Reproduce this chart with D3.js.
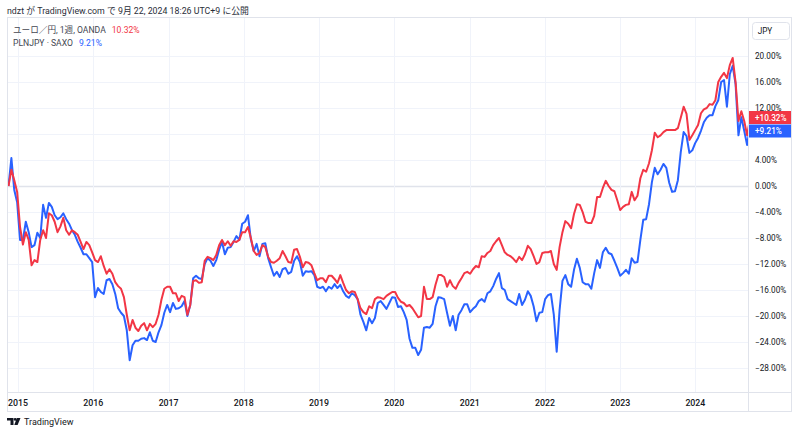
<!DOCTYPE html>
<html>
<head>
  <meta charset="utf-8" />
  <style>
    body { margin: 0; background: #fff; }
    text { font-family: Roboto, "Noto Sans CJK JP", sans-serif; }
    .series { fill: none; stroke-width: 2; stroke-linejoin: round; }
  </style>
</head>
<body>
  <svg id="container" width="800" height="438"></svg>
  <script src="https://cdn.jsdelivr.net/npm/d3@7/dist/d3.min.js" charset="utf-8"></script>
<script>
// two-weekly closes, % change since the first bar
var startDate = Date.UTC(2014, 10, 16);
var stepDays = 14;

var eurjpy = [
  0, 2.5, 0.9, -0.9, -6.3, -9.0, -7.1, -8.3, -12.2, -11.4,
  -11.7, -8.3, -6.8, -8.0, -4.2, -4.5, -5.5, -7.1, -6.2, -4.9,
  -6.8, -7.5, -6.8, -7.1, -7.5, -8.6, -9.7, -8.6, -9.1, -10.2,
  -11.4, -11.7, -10.8, -12.3, -13.5, -12.8, -13.5, -14.8, -15.4, -15.8,
  -17.1, -19.8, -22.2, -20.6, -21.8, -22.3, -21.5, -21.1, -22.2, -21.2,
  -21.7, -21.2, -19.8, -17.5, -15.8, -15.5, -15.5, -16.5, -16.5, -17.7,
  -16.9, -17.1, -19.8, -18.3, -14.6, -14.5, -14.9, -14.8, -11.5, -10.9,
  -11.1, -11.4, -10.6, -9.1, -8.3, -9.1, -8.5, -9.2, -8.5, -8.6,
  -8.3, -7.1, -7.1, -6.3, -8.0, -10.0, -10.6, -10.3, -9.1, -9.4,
  -10.9, -11.7, -11.8, -11.5, -11.1, -10.0, -10.8, -11.7, -11.8, -9.8,
  -9.7, -10.9, -12.5, -11.7, -11.8, -12.2, -13.4, -14.5, -14.2, -14.2,
  -14.8, -13.8, -13.8, -14.3, -14.9, -13.7, -14.9, -16.0, -16.5, -16.2,
  -16.3, -17.4, -18.8, -19.4, -19.7, -18.5, -18.8, -17.4, -17.1, -17.2,
  -17.4, -16.9, -16.6, -16.3, -16.3, -17.2, -17.8, -18.0, -18.5, -18.3,
  -18.8, -19.5, -20.2, -20.0, -15.5, -17.4, -17.4, -17.1, -15.2, -13.7,
  -13.7, -14.0, -15.5, -14.5, -15.4, -15.8, -14.9, -14.2, -13.4, -13.2,
  -13.5, -12.8, -12.3, -12.5, -10.8, -10.9, -10.3, -10.0, -9.1, -8.5,
  -8.0, -9.1, -10.2, -10.6, -10.8, -11.2, -11.7, -10.9, -11.4, -10.5,
  -9.2, -9.7, -10.8, -12.0, -11.7, -10.3, -10.2, -10.2, -10.0, -12.0,
  -12.9, -9.4, -7.1, -5.4, -5.8, -6.5, -4.3, -2.8, -2.9, -4.0,
  -5.5, -5.7, -5.7, -4.6, -1.7, -1.7, -0.3, 0.8, 0.0, -0.6,
  -0.8, -2.2, -3.7, -3.2, -2.9, -2.8, -0.9, -2.2, -1.5, 1.2,
  2.5, 2.2, 3.5, 5.5, 8.2, 7.5, 7.8, 8.3, 8.6, 8.6,
  8.6, 8.6, 8.9, 10.5, 12.2, 11.1, 7.1, 7.8, 8.6, 9.4,
  11.2, 11.8, 12.0, 12.6, 12.5, 13.2, 16.0, 16.8, 17.4, 16.6,
  18.6, 19.7, 16.0, 10.0, 11.5, 10.0, 7.8, 10.32
];

var plnjpy = [
  0, 4.3, -0.6, -2.5, -8.3, -8.3, -5.5, -7.1, -9.4, -9.1,
  -7.2, -8.0, -2.9, -4.9, -2.6, -3.2, -4.5, -5.1, -4.8, -4.2,
  -5.1, -5.8, -6.8, -7.5, -8.6, -9.5, -10.5, -10.5, -11.1, -11.7,
  -17.1, -15.7, -16.3, -16.6, -14.5, -14.3, -15.1, -16.6, -18.8, -19.5,
  -20.0, -22.2, -26.8, -24.5, -23.8, -23.8, -23.5, -23.4, -23.7, -22.5,
  -23.8, -24.0, -22.5, -21.4, -19.5, -18.3, -19.4, -18.0, -18.9, -18.8,
  -18.5, -17.7, -20.0, -18.3, -14.2, -13.8, -14.2, -14.3, -12.0, -11.1,
  -11.5, -12.3, -11.4, -9.8, -8.6, -10.5, -9.5, -9.4, -8.6, -7.7,
  -8.3, -5.8, -5.5, -4.5, -8.2, -10.0, -8.9, -10.8, -8.9, -8.8,
  -11.1, -12.5, -13.8, -13.2, -14.0, -12.8, -12.6, -13.5, -13.2, -11.5,
  -10.8, -11.7, -13.8, -13.1, -13.2, -13.1, -13.7, -15.5, -15.7, -15.5,
  -16.2, -15.5, -15.8, -15.1, -15.7, -15.2, -16.2, -16.9, -17.2, -16.5,
  -16.8, -17.4, -19.8, -20.9, -22.2, -20.3, -21.1, -20.3, -18.0, -17.7,
  -18.3, -18.9, -18.0, -17.1, -17.2, -18.6, -18.5, -19.4, -20.6, -23.5,
  -24.9, -24.9, -26.0, -25.2, -21.8, -21.7, -21.8, -21.2, -18.5, -17.1,
  -17.2, -17.4, -19.5, -21.5, -20.0, -22.2, -19.8, -19.1, -18.2, -18.2,
  -19.4, -18.9, -18.5, -17.7, -17.4, -17.8, -16.5, -16.2, -15.4, -14.3,
  -13.4, -15.7, -16.0, -17.4, -17.7, -18.0, -18.3, -16.6, -18.3, -17.5,
  -16.2, -16.9, -18.5, -20.8, -19.5, -19.4, -17.4, -16.8, -16.6, -19.8,
  -25.5, -19.1, -14.6, -13.7, -15.1, -15.5, -12.9, -11.2, -12.6, -14.8,
  -15.1, -15.1, -15.8, -13.4, -11.4, -12.6, -10.2, -9.5, -10.3, -10.5,
  -11.5, -12.6, -13.8, -13.4, -12.9, -13.5, -11.1, -11.8, -11.7, -8.3,
  -5.2, -5.1, -2.8, 0.6, 2.8, 1.8, 2.5, 3.4, 2.8, 0.5,
  -0.9, -0.8, 0.9, 5.2, 8.3, 7.7, 5.1, 5.5, 6.6, 7.4,
  8.5, 9.8, 10.5, 10.9, 10.9, 12.3, 13.2, 16.0, 16.3, 12.2,
  17.2, 18.5, 15.7, 7.8, 10.6, 8.5, 6.3, 9.21
];

var yTicks = [20, 16, 12, 4, 0, -4, -8, -12, -16, -20, -24, -28];
var years = [2015, 2016, 2017, 2018, 2019, 2020, 2021, 2022, 2023, 2024];

var RED = '#f23645', BLUE = '#2962ff', GRID = '#f0f3fa', INK = '#131722';

var svg = d3.select('#container');
var pLeft = 7, pRight = 748, pTop = 17, pBottom = 392, outerR = 792, outerB = 412;

var dates = eurjpy.map(function (d, i) { return d3.utcDay.offset(new Date(startDate), i * stepDays); });
var x = d3.scaleUtc()
  .domain([dates[0], dates[dates.length - 1]])
  .range([8.5, 750]);
var y = d3.scaleLinear().domain([-31.69, 25.85]).range([pBottom, pTop + 1]);

// header
svg.append('text').attr('x', 7).attr('y', 14).attr('font-size', 8.8).attr('fill', '#2a2e39')
  .text('ndzt が TradingView.com で 9月 22, 2024 18:26 UTC+9 に公開');

// frame
svg.append('rect').attr('x', pLeft + 0.5).attr('y', pTop + 0.5)
  .attr('width', outerR - pLeft - 1).attr('height', outerB - pTop - 1)
  .attr('fill', 'none').attr('stroke', '#e0e3eb');

// grid
svg.append('g').selectAll('line').data(yTicks.concat([8])).enter().append('line')
  .attr('x1', pLeft + 1).attr('x2', pRight)
  .attr('y1', function (d) { return Math.round(y(d)) + 0.5; })
  .attr('y2', function (d) { return Math.round(y(d)) + 0.5; })
  .attr('stroke', function (d) { return d === 0 ? '#e0e3eb' : GRID; })
  .attr('stroke-width', function (d) { return d === 0 ? 1.5 : 1; });
svg.append('g').selectAll('line').data(years).enter().append('line')
  .attr('x1', function (d) { return Math.round(x(Date.UTC(d, 0, 1))) + 0.5; })
  .attr('x2', function (d) { return Math.round(x(Date.UTC(d, 0, 1))) + 0.5; })
  .attr('y1', pTop + 1).attr('y2', pBottom)
  .attr('stroke', GRID);

// axis separators
svg.append('line').attr('x1', pRight + 0.5).attr('x2', pRight + 0.5).attr('y1', pTop).attr('y2', outerB)
  .attr('stroke', '#e0e3eb');
svg.append('line').attr('x1', pLeft).attr('x2', outerR).attr('y1', pBottom + 0.5).attr('y2', pBottom + 0.5)
  .attr('stroke', '#e0e3eb');

// series
svg.append('clipPath').attr('id', 'plot').append('rect')
  .attr('x', pLeft + 1).attr('y', pTop + 1).attr('width', pRight - pLeft - 1).attr('height', pBottom - pTop - 1);
var line = d3.line()
  .x(function (d, i) { return x(dates[i]); })
  .y(function (d) { return y(d); });
var plot = svg.append('g').attr('clip-path', 'url(#plot)');
plot.append('path').datum(plnjpy).attr('class', 'series').attr('stroke', BLUE).attr('d', line);
plot.append('path').datum(eurjpy).attr('class', 'series').attr('stroke', RED).attr('d', line);

// right axis
var fmt = function (d) { return (d < 0 ? '\u2212' : '') + Math.abs(d).toFixed(2) + '%'; };
svg.append('g').selectAll('text').data(yTicks).enter().append('text')
  .attr('x', 755).attr('y', function (d) { return y(d) + 3; })
  .attr('font-size', 8.2).attr('fill', INK)
  .text(fmt);

// last value labels
var tags = [
  { v: eurjpy[eurjpy.length - 1], c: RED, cy: 117.5 },
  { v: plnjpy[plnjpy.length - 1], c: BLUE, cy: 131 }
];
var tag = svg.append('g').selectAll('g').data(tags).enter().append('g');
tag.append('rect').attr('x', pRight + 1).attr('y', function (d) { return d.cy - 6.5; })
  .attr('width', outerR - pRight - 2).attr('height', 13).attr('fill', function (d) { return d.c; });
tag.append('text').attr('x', 755).attr('y', function (d) { return d.cy + 3; })
  .attr('font-size', 8.2).attr('font-weight', 500).attr('fill', '#fff')
  .text(function (d) { return '+' + d.v.toFixed(2) + '%'; });

// currency button
svg.append('rect').attr('x', 752.5).attr('y', 22.5).attr('width', 37).attr('height', 17).attr('rx', 3)
  .attr('fill', '#fff').attr('stroke', '#e0e3eb');
svg.append('text').attr('x', 765).attr('y', 34).attr('text-anchor', 'middle')
  .attr('font-size', 8.2).attr('fill', INK).text('JPY');

// x axis
svg.append('g').selectAll('text').data(years).enter().append('text')
  .attr('x', function (d) { return x(Date.UTC(d, 0, 1)); })
  .attr('y', 406).attr('text-anchor', 'middle')
  .attr('font-size', 8.8).attr('font-weight', 500).attr('fill', INK)
  .text(function (d) { return d; });

// legend
var leg1 = svg.append('text').attr('x', 13).attr('y', 33).attr('font-size', 8.6).attr('fill', '#434651');
leg1.append('tspan').text('ユーロ／円, 1週, OANDA');
leg1.append('tspan').attr('dx', 6).attr('fill', RED).text(eurjpy[eurjpy.length - 1].toFixed(2) + '%');
var leg2 = svg.append('text').attr('x', 13).attr('y', 46).attr('font-size', 8.6).attr('fill', '#434651');
leg2.append('tspan').text('PLNJPY · SAXO');
leg2.append('tspan').attr('dx', 6).attr('fill', BLUE).text(plnjpy[plnjpy.length - 1].toFixed(2) + '%');

// footer logo
var logo = svg.append('g').attr('fill', INK);
logo.append('path').attr('d', 'M7,418 H13.5 V425 H10.5 V420.6 H7 Z');
logo.append('circle').attr('cx', 15.2).attr('cy', 419.4).attr('r', 1.4);
logo.append('path').attr('d', 'M16.8,418 H20.5 L17.6,425 H14.3 Z');
svg.append('text').attr('x', 24).attr('y', 425).attr('font-size', 9).attr('fill', INK).text('TradingView');
</script>
</body>
</html>
